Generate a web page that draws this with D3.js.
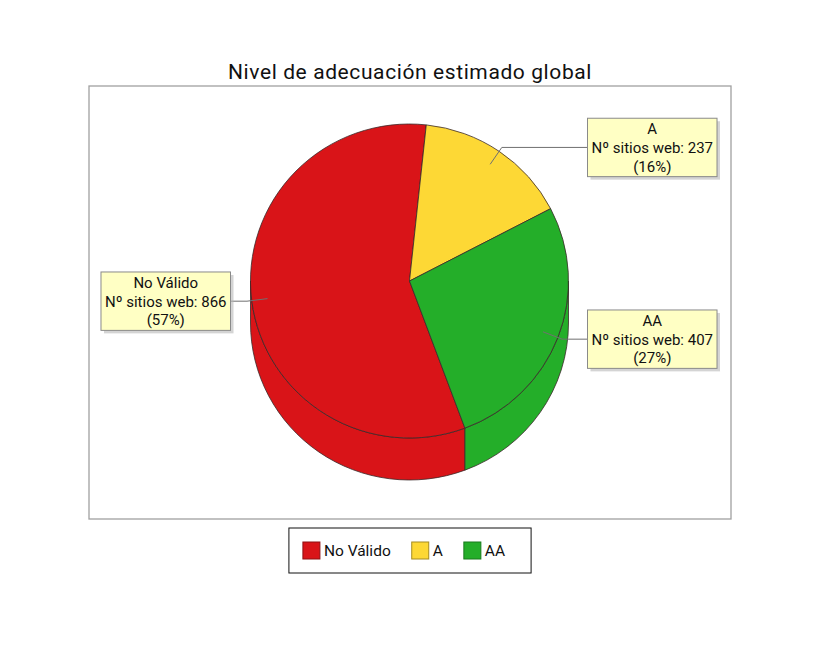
<!DOCTYPE html>
<html>
<head>
<meta charset="utf-8">
<script src="https://cdn.jsdelivr.net/npm/d3@7"></script>
<style>
  body { margin: 0; background: #fff; }
  svg { display: block; font-family: Roboto, sans-serif; }
</style>
</head>
<body>
<div id="wrapper"></div>
<script>
// datos
const categories = ["No Válido", "A", "AA"];
const siteCounts = [866, 237, 407];
const sliceColors = ["#d91418", "#fdd835", "#24ae29"];
const legendStrokes = ["#8e1013", "#a58c22", "#187a1c"];
const chartTitle = "Nivel de adecuación estimado global";
const labelPrefix = "Nº sitios web: ";

function drawPie3D() {
  const dimensions = {
    width: 825,
    height: 645,
    plot: { left: 89, top: 86, right: 731, bottom: 519 },
  };
  // elipse superior + profundidad
  const pie3d = { cx: 409.5, cy: 281, rx: 159, ry: 157, depth: 42, startDeg: 159.6 };

  const svg = d3.select("#wrapper").append("svg")
    .attr("width", dimensions.width)
    .attr("height", dimensions.height);

  const total = d3.sum(siteCounts);
  const pct = d3.format(".0%");
  const color = d3.scaleOrdinal().domain(categories).range(sliceColors);
  const legendStroke = d3.scaleOrdinal().domain(categories).range(legendStrokes);

  const data = categories.map((c, i) => ({ category: c, value: siteCounts[i] }));
  const start = pie3d.startDeg * Math.PI / 180;
  const arcs = d3.pie().sort(null).value(d => d.value)
    .startAngle(start).endAngle(start + 2 * Math.PI)(data);

  const { cx, cy, rx, ry, depth } = pie3d;
  const pt = (a, k = 1, dy = 0) => [cx + k * rx * Math.sin(a), cy - k * ry * Math.cos(a) + dy];

  // título
  svg.append("text")
    .attr("x", (dimensions.plot.left + dimensions.plot.right) / 2)
    .attr("y", 79)
    .attr("text-anchor", "middle")
    .attr("font-size", 21)
    .attr("letter-spacing", 0.6)
    .attr("fill", "#111")
    .text(chartTitle);

  // área del gráfico
  svg.append("rect")
    .attr("x", dimensions.plot.left)
    .attr("y", dimensions.plot.top)
    .attr("width", dimensions.plot.right - dimensions.plot.left)
    .attr("height", dimensions.plot.bottom - dimensions.plot.top)
    .attr("fill", "#fff")
    .attr("stroke", "#a0a0a0")
    .attr("stroke-width", 1.3);

  // paredes laterales (solo la mitad frontal)
  const walls = [];
  arcs.forEach(d => {
    [0, 2 * Math.PI].forEach(off => {
      const b0 = Math.max(d.startAngle, Math.PI / 2 + off);
      const b1 = Math.min(d.endAngle, 3 * Math.PI / 2 + off);
      if (b1 > b0) walls.push({ d, b0, b1 });
    });
  });
  svg.append("g").selectAll("path")
    .data(walls)
    .join("path")
    .attr("d", w => {
      const p0 = pt(w.b0), p1 = pt(w.b1);
      const q1 = pt(w.b1, 1, depth), q0 = pt(w.b0, 1, depth);
      return `M${p0} A${rx},${ry} 0 0 1 ${p1} L${q1} A${rx},${ry} 0 0 0 ${q0} Z`;
    })
    .attr("fill", w => color(w.d.data.category))
    .attr("stroke", "#3a2a2a")
    .attr("stroke-width", 0.8)
    .attr("stroke-linejoin", "round");

  // cara superior
  svg.append("g").selectAll("path")
    .data(arcs)
    .join("path")
    .attr("d", d => {
      const large = d.endAngle - d.startAngle > Math.PI ? 1 : 0;
      return `M${cx},${cy} L${pt(d.startAngle)} A${rx},${ry} 0 ${large} 1 ${pt(d.endAngle)} Z`;
    })
    .attr("fill", d => color(d.data.category))
    .attr("stroke", "#3a2a2a")
    .attr("stroke-width", 0.8)
    .attr("stroke-linejoin", "round");

  // etiquetas
  const lineH = 18.8;
  const labels = svg.append("g").attr("font-size", 15).attr("fill", "#111");
  arcs.forEach(d => {
    const mid = (d.startAngle + d.endAngle) / 2;
    const anchor = pt(mid, 0.9);
    const link = pt(mid, 1.03);
    const right = Math.sin(mid) > 0;
    const edgeX = right ? cx + rx + 19 : cx - rx - 20;

    const g = labels.append("g");
    const shadow = g.append("rect").attr("fill", "#b8b8b8").attr("opacity", 0.6);
    const box = g.append("rect").attr("fill", "#ffffc4").attr("stroke", "#8a8a8a").attr("stroke-width", 1);
    const text = g.append("text").attr("text-anchor", "middle");
    const lines = [d.data.category, labelPrefix + d.data.value, `(${pct(d.data.value / total)})`];
    text.selectAll("tspan").data(lines).join("tspan").text(t => t);
    const w = d3.max(text.selectAll("tspan").nodes(), n => n.getComputedTextLength()) + 8;
    const h = lines.length * lineH + 2;
    const x0 = right ? edgeX : edgeX - w;
    const y0 = link[1] - h / 2;
    text.selectAll("tspan")
      .attr("x", x0 + w / 2)
      .attr("y", (t, i) => y0 + 1 + lineH * (i + 0.5))
      .attr("dy", "0.36em");
    box.attr("x", x0).attr("y", y0).attr("width", w).attr("height", h);
    shadow.attr("x", x0 + 3).attr("y", y0 + 3).attr("width", w).attr("height", h);

    svg.append("path")
      .attr("d", `M${anchor} L${link} L${edgeX},${link[1]}`)
      .attr("fill", "none")
      .attr("stroke", "#707070")
      .attr("stroke-width", 1);
  });
  labels.raise();

  // leyenda
  const legend = svg.append("g").attr("font-size", 15.5).attr("fill", "#111");
  const sw = 17, gap = 4, spacing = 21, pad = 14;
  let x = 0;
  const items = categories.map(c => {
    const it = legend.append("g");
    it.append("rect").attr("width", sw).attr("height", sw)
      .attr("fill", color(c)).attr("stroke", legendStroke(c)).attr("stroke-width", 1);
    const t = it.append("text").attr("x", sw + gap).attr("y", sw / 2).attr("dy", "0.36em").text(c);
    const tw = t.node().getComputedTextLength();
    const item = { g: it, x };
    x += sw + gap + tw + spacing;
    return item;
  });
  const contentW = x - spacing;
  const boxW = contentW + 2 * pad + 12;
  const boxH = 45;
  const bx = (dimensions.plot.left + dimensions.plot.right) / 2 - boxW / 2;
  const by = 528;
  legend.insert("rect", ":first-child")
    .attr("x", bx).attr("y", by).attr("width", boxW).attr("height", boxH)
    .attr("fill", "#fff").attr("stroke", "#111").attr("stroke-width", 1);
  items.forEach(it => it.g.attr("transform", `translate(${bx + pad + it.x},${by + (boxH - sw) / 2})`));
}

drawPie3D();
</script>
</body>
</html>
